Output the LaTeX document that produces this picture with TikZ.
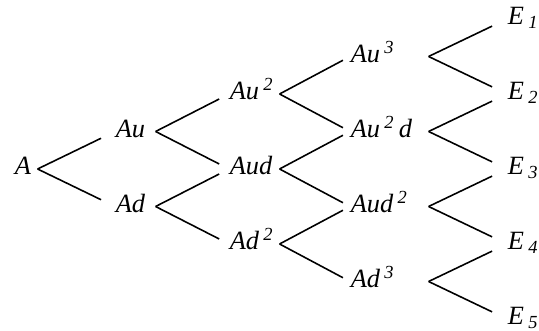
\documentclass[tikz,border=0pt]{standalone}
\usepackage{fontspec}
\setmainfont{Liberation Serif}

\begin{document}
\begin{tikzpicture}[
    lbl/.style={anchor=base west, inner sep=0pt, align=left,
        text height=0.3cm, text depth=0.06cm,
        font=\fontsize{15}{18}\selectfont\itshape},
    colA/.style={lbl, text width=0.44cm},
    colB/.style={lbl, text width=0.78cm},
    colC/.style={lbl, text width=0.98cm},
    colD/.style={lbl, text width=1.54cm},
    armA/.style={shorten >=0.31cm},
    armB/.style={shorten >=0.22cm},
    armC/.style={shorten >=0.16cm},
    armD/.style={shorten >=0.33cm},
    every path/.style={line width=0.9pt}]

    \useasboundingbox (0,0) rectangle (10.78,6.62);

    % Start value
    \node[colA] (A) at (0.28, 3.12) {A};

    % After one period
    \node[colB] (Au) at (2.30, 3.87) {Au};
    \node[colB] (Ad) at (2.30, 2.37) {Ad};

    % After two periods
    \node[colC] (Au2) at (4.58, 4.62) {Au\,\textsuperscript{2}};
    \node[colC] (Aud) at (4.58, 3.12) {Aud};
    \node[colC] (Ad2) at (4.58, 1.62) {Ad\,\textsuperscript{2}};

    % After three periods
    \node[colD] (Au3)  at (7.00, 5.37) {Au\,\textsuperscript{3}};
    \node[colD] (Au2d) at (7.00, 3.87) {Au\,\textsuperscript{2}\,d};
    \node[colD] (Aud2) at (7.00, 2.37) {Aud\,\textsuperscript{2}};
    \node[colD] (Ad3)  at (7.00, 0.87) {Ad\,\textsuperscript{3}};

    % Final values
    \node[lbl] (E1) at (10.14, 6.12) {E\,\textsubscript{1}};
    \node[lbl] (E2) at (10.14, 4.62) {E\,\textsubscript{2}};
    \node[lbl] (E3) at (10.14, 3.12) {E\,\textsubscript{3}};
    \node[lbl] (E4) at (10.14, 1.62) {E\,\textsubscript{4}};
    \node[lbl] (E5) at (10.14, 0.12) {E\,\textsubscript{5}};

    % Branches of the first period
    \draw[armA] (A.east) -- (Au.west);
    \draw[armA] (A.east) -- (Ad.west);

    % Branches of the second period
    \draw[armB] (Au.east) -- (Au2.west);
    \draw[armB] (Au.east) -- (Aud.west);
    \draw[armB] (Ad.east) -- (Aud.west);
    \draw[armB] (Ad.east) -- (Ad2.west);

    % Branches of the third period
    \draw[armC] (Au2.east) -- (Au3.west);
    \draw[armC] (Au2.east) -- (Au2d.west);
    \draw[armC] (Aud.east) -- (Au2d.west);
    \draw[armC] (Aud.east) -- (Aud2.west);
    \draw[armC] (Ad2.east) -- (Aud2.west);
    \draw[armC] (Ad2.east) -- (Ad3.west);

    % Branches to the final values
    \draw[armD] (Au3.east) -- (E1.west);
    \draw[armD] (Au3.east) -- (E2.west);
    \draw[armD] (Au2d.east) -- (E2.west);
    \draw[armD] (Au2d.east) -- (E3.west);
    \draw[armD] (Aud2.east) -- (E3.west);
    \draw[armD] (Aud2.east) -- (E4.west);
    \draw[armD] (Ad3.east) -- (E4.west);
    \draw[armD] (Ad3.east) -- (E5.west);

\end{tikzpicture}
\end{document}
